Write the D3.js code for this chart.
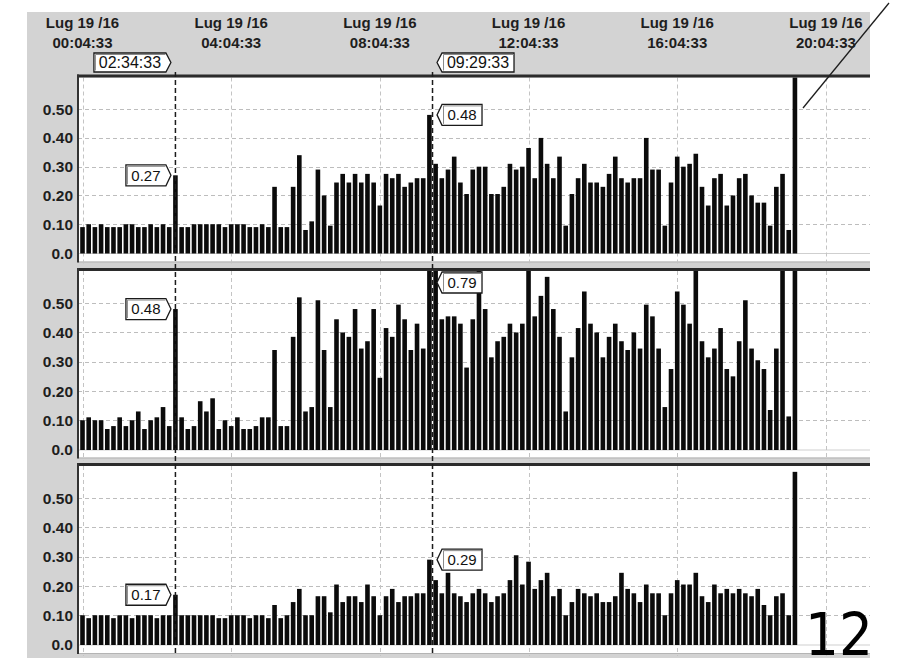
<!DOCTYPE html>
<html>
<head>
<meta charset="utf-8">
<script src="https://cdn.jsdelivr.net/npm/d3@7"></script>
<style>
  html, body { margin: 0; padding: 0; background: #fff; }
  svg { display: block; }
</style>
</head>
<body>
<svg id="chart" width="899" height="669"></svg>
<script>
// Sampling: one bar every 10 minutes starting at the first timestamp
const startTime = "2016-07-19T00:04:33";
const stepMinutes = 10;

// Upper panel
const seriesA = [
  0.09,0.10,0.09,0.10,0.09,0.09,0.09,0.10,0.10,0.09,0.09,0.10,0.09,0.10,0.09,0.27,
  0.09,0.09,0.10,0.10,0.10,0.10,0.10,0.09,0.10,0.10,0.10,0.09,0.09,0.10,0.09,0.23,
  0.09,0.09,0.23,0.34,0.08,0.11,0.29,0.20,0.095,0.245,0.275,0.245,0.275,0.245,0.275,0.245,
  0.165,0.275,0.26,0.275,0.23,0.245,0.26,0.26,0.48,0.31,0.26,0.29,0.335,0.245,0.205,0.29,
  0.30,0.30,0.205,0.205,0.23,0.31,0.29,0.30,0.365,0.26,0.40,0.31,0.26,0.335,0.095,0.205,
  0.26,0.31,0.245,0.245,0.23,0.275,0.335,0.26,0.245,0.26,0.26,0.40,0.29,0.29,0.095,0.245,
  0.335,0.30,0.31,0.345,0.23,0.165,0.26,0.275,0.165,0.20,0.26,0.275,0.20,0.175,0.175,0.095,
  0.23,0.275,0.08,0.62
];

// Middle panel
const seriesB = [
  0.10,0.11,0.10,0.10,0.07,0.08,0.11,0.08,0.10,0.13,0.07,0.10,0.11,0.145,0.08,0.48,
  0.11,0.07,0.08,0.165,0.13,0.175,0.07,0.10,0.08,0.11,0.07,0.07,0.08,0.11,0.11,0.34,
  0.08,0.08,0.385,0.52,0.13,0.145,0.51,0.34,0.145,0.445,0.40,0.385,0.48,0.345,0.37,0.48,
  0.245,0.415,0.385,0.495,0.445,0.34,0.43,0.345,0.79,0.66,0.445,0.455,0.455,0.43,0.28,0.445,
  0.63,0.48,0.315,0.37,0.385,0.43,0.40,0.43,0.63,0.455,0.525,0.59,0.48,0.385,0.13,0.315,
  0.415,0.54,0.43,0.40,0.315,0.385,0.43,0.37,0.34,0.40,0.345,0.495,0.455,0.345,0.145,0.275,
  0.54,0.495,0.43,0.63,0.37,0.315,0.345,0.415,0.275,0.25,0.37,0.51,0.345,0.305,0.275,0.135,
  0.345,0.63,0.113,0.63
];

// Lower panel
const seriesC = [
  0.10,0.09,0.10,0.10,0.10,0.09,0.10,0.10,0.09,0.10,0.10,0.10,0.09,0.10,0.10,0.17,
  0.10,0.10,0.10,0.10,0.10,0.10,0.09,0.09,0.10,0.10,0.10,0.09,0.10,0.10,0.09,0.135,
  0.09,0.10,0.145,0.19,0.10,0.10,0.165,0.165,0.11,0.205,0.145,0.165,0.165,0.145,0.205,0.165,
  0.10,0.165,0.19,0.145,0.165,0.165,0.175,0.175,0.29,0.22,0.175,0.245,0.175,0.165,0.145,0.175,
  0.19,0.175,0.145,0.165,0.175,0.22,0.305,0.205,0.283,0.19,0.22,0.245,0.165,0.19,0.10,0.145,
  0.19,0.175,0.165,0.175,0.145,0.145,0.165,0.245,0.19,0.175,0.145,0.205,0.175,0.175,0.10,0.175,
  0.22,0.205,0.205,0.245,0.165,0.145,0.205,0.175,0.19,0.175,0.19,0.175,0.165,0.19,0.135,0.10,
  0.165,0.175,0.10,0.59
];

// Time axis ticks (drawn in the header band)
const tickTimes = [
  "2016-07-19T00:04:33","2016-07-19T04:04:33","2016-07-19T08:04:33",
  "2016-07-19T12:04:33","2016-07-19T16:04:33","2016-07-19T20:04:33"
];
const tickDateLabels = ["Lug 19 /16","Lug 19 /16","Lug 19 /16","Lug 19 /16","Lug 19 /16","Lug 19 /16"];
const tickTimeLabels = ["00:04:33","04:04:33","08:04:33","12:04:33","16:04:33","20:04:33"];

// Cursor markers
const markerTimes = ["2016-07-19T02:34:33","2016-07-19T09:29:33"];
const markerLabels = ["02:34:33","09:29:33"];

// Value axis
const yTicks = [0, 0.1, 0.2, 0.3, 0.4, 0.5];
const yTickLabels = ["0.0","0.10","0.20","0.30","0.40","0.50"];
const yMax = 0.61;

const pageNumber = "12";

// ---------------------------------------------------------------
const parse = d3.timeParse("%Y-%m-%dT%H:%M:%S");
const t0 = parse(startTime);
const ticks = tickTimes.map(parse);
const markers = markerTimes.map(parse);

const plotLeft = 78, plotRight = 870;
const x = d3.scaleTime()
  .domain([ticks[0], ticks[ticks.length - 1]])
  .range([82.5, 825.9]);

const svg = d3.select("#chart");
const FONT = "'Liberation Sans', Arial, Helvetica, sans-serif";

// Grey frame
svg.append("rect")
  .attr("x", 27).attr("y", 12)
  .attr("width", plotRight - 27).attr("height", 646)
  .attr("fill", "#d3d3d3");

// Header tick labels
const header = svg.append("g").attr("font-family", FONT)
  .attr("font-weight", "bold").attr("font-size", 15).attr("fill", "#1e1e1e")
  .attr("text-anchor", "middle");
ticks.forEach((t, i) => {
  header.append("text").attr("x", x(t)).attr("y", 27.5).text(tickDateLabels[i]);
  header.append("text").attr("x", x(t)).attr("y", 48).text(tickTimeLabels[i]);
});

const panels = [
  { id: "a", values: seriesA, top: 77.5, zero: 253,   bottom: 261.5 },
  { id: "b", values: seriesB, top: 271,  zero: 449.5, bottom: 457.5 },
  { id: "c", values: seriesC, top: 466,  zero: 644.5, bottom: 653 }
];

const barTime = i => d3.timeMinute.offset(t0, i * stepMinutes);
const barW = 4.6;
const fmt = d3.format(".2f");

// Which bar each cursor sits on
const markerIndex = markers.map(m => Math.floor((m - t0) / (stepMinutes * 60000)));

const defs = svg.append("defs");

// Pentagon-shaped callout; dir = 1 points right (box on the left of tip), -1 points left
function callout(g, tipX, yc, w, h, dir, label, fontSize) {
  const a = 5;
  const base = tipX - dir * a;
  const far = base - dir * w;
  const pts = [[far, yc - h / 2], [base, yc - h / 2], [tipX, yc], [base, yc + h / 2], [far, yc + h / 2]];
  g.append("path")
    .attr("d", "M" + pts.map(p => p.join(",")).join("L") + "Z")
    .attr("fill", "#fff").attr("stroke", "#1a1a1a").attr("stroke-width", 1.3);
  // inset edge along top and the outer side
  const l = Math.min(far, base), r = Math.max(far, base);
  g.append("path")
    .attr("d", `M${l + 1.5},${yc + h / 2 - 1.5}L${l + 1.5},${yc - h / 2 + 1.5}L${r - 0.5},${yc - h / 2 + 1.5}`)
    .attr("fill", "none").attr("stroke", "#8a8a8a").attr("stroke-width", 1);
  g.append("text")
    .attr("x", (far + base) / 2).attr("y", yc)
    .attr("dy", "0.36em").attr("text-anchor", "middle")
    .attr("font-family", FONT).attr("font-size", fontSize).attr("fill", "#111")
    .text(label);
}

panels.forEach(p => {
  const y = d3.scaleLinear().domain([0, yMax]).range([p.zero, p.top]);
  const g = svg.append("g");

  // plot background
  g.append("rect")
    .attr("x", plotLeft).attr("y", p.top)
    .attr("width", plotRight - plotLeft).attr("height", p.bottom - p.top)
    .attr("fill", "#fff");
  g.append("line")
    .attr("x1", plotLeft).attr("x2", plotRight)
    .attr("y1", p.bottom + 0.5).attr("y2", p.bottom + 0.5)
    .attr("stroke", "#b4b4b4").attr("stroke-width", 1);

  // horizontal grid
  g.selectAll(".hg").data(yTicks.filter(v => v > 0)).join("line")
    .attr("x1", plotLeft).attr("x2", plotRight)
    .attr("y1", d => Math.round(y(d)) + 0.5).attr("y2", d => Math.round(y(d)) + 0.5)
    .attr("stroke", "#bdbdbd").attr("stroke-width", 1).attr("stroke-dasharray", "4,3");
  g.append("line")
    .attr("x1", plotLeft).attr("x2", plotRight)
    .attr("y1", p.zero + 0.5).attr("y2", p.zero + 0.5)
    .attr("stroke", "#cfcfcf").attr("stroke-width", 1);

  // vertical grid at the time ticks
  g.selectAll(".vg").data(ticks).join("line")
    .attr("x1", d => Math.round(x(d)) + 0.5).attr("x2", d => Math.round(x(d)) + 0.5)
    .attr("y1", p.top).attr("y2", p.bottom + 3)
    .attr("stroke", "#c4c4c4").attr("stroke-width", 1).attr("stroke-dasharray", "4,3");

  // bars, clipped to the plot
  defs.append("clipPath").attr("id", "clip-" + p.id)
    .append("rect").attr("x", plotLeft).attr("y", p.top)
    .attr("width", plotRight - plotLeft).attr("height", p.bottom - p.top);
  g.append("g").attr("clip-path", `url(#clip-${p.id})`)
    .selectAll("rect").data(p.values).join("rect")
    .attr("x", (d, i) => x(barTime(i)) - barW / 2)
    .attr("width", barW)
    .attr("y", d => y(d))
    .attr("height", d => p.zero + 0.5 - y(d))
    .attr("fill", "#0b0b0b");

  // frame: heavy top edge and left edge
  g.append("line")
    .attr("x1", plotLeft - 1).attr("x2", plotRight)
    .attr("y1", p.top - 1.5).attr("y2", p.top - 1.5)
    .attr("stroke", "#2b2b2b").attr("stroke-width", 3);
  g.append("line")
    .attr("x1", plotLeft).attr("x2", plotLeft)
    .attr("y1", p.top - 3).attr("y2", p.bottom + 1)
    .attr("stroke", "#333").attr("stroke-width", 2);

  // value axis labels
  g.selectAll(".yl").data(yTicks).join("text")
    .attr("x", 73).attr("y", d => y(d))
    .attr("dy", "0.36em").attr("text-anchor", "end")
    .attr("font-family", FONT).attr("font-weight", "bold")
    .attr("font-size", 15.5).attr("fill", "#1e1e1e")
    .text((d, i) => yTickLabels[i]);
});

// Cursor lines across all panels
svg.selectAll(".cursor").data(markers).join("line")
  .attr("x1", d => x(d)).attr("x2", d => x(d))
  .attr("y1", 72).attr("y2", 656)
  .attr("stroke", "#1c1c1c").attr("stroke-width", 1.5)
  .attr("stroke-dasharray", "5,3");

// Cursor time callouts in the header
const hdr = svg.append("g");
markers.forEach((m, k) => {
  const dir = k === 0 ? 1 : -1;
  callout(hdr, x(m) - dir * 4.5, 62.5, 72, 19, dir, markerLabels[k], 16);
});

// Value callouts for the bar under each cursor
const vl = svg.append("g");
panels.forEach(p => {
  const y = d3.scaleLinear().domain([0, yMax]).range([p.zero, p.top]);
  markers.forEach((m, k) => {
    const dir = k === 0 ? 1 : -1;
    const v = p.values[markerIndex[k]];
    const h = 21;
    const yc = Math.max(y(v), p.top + h / 2 + 1);
    callout(vl, x(m) - dir * 4.5, yc, 40, h, dir, fmt(v), 15);
  });
});

// Page annotation
svg.append("line")
  .attr("x1", 889).attr("y1", 3).attr("x2", 803).attr("y2", 108)
  .attr("stroke", "#1e1e1e").attr("stroke-width", 1.3);
svg.append("text")
  .attr("transform", "translate(805,655) scale(0.92,1)")
  .attr("font-family", "'DejaVu Sans', Verdana, sans-serif")
  .attr("font-size", 58).attr("fill", "#000")
  .text(pageNumber);
</script>
</body>
</html>
